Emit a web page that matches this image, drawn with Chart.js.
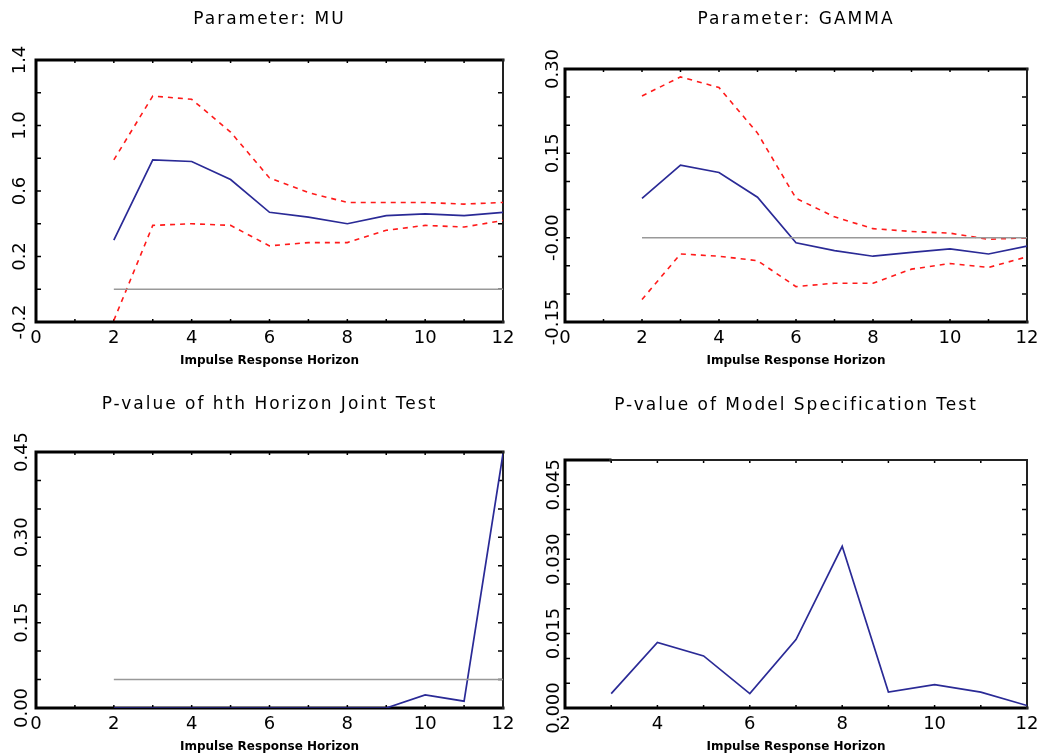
<!DOCTYPE html>
<html>
<head>
<meta charset="utf-8">
<title>Impulse response estimates</title>
<script src="https://cdn.jsdelivr.net/npm/chart.js@4.4.1/dist/chart.umd.min.js"></script>
<style>
  body { margin: 0; background: #fff; }
  .panel { position: absolute; }
</style>
</head>
<body>
<div class="panel" style="left:0;top:0;width:520px;height:375px"><canvas id="muChart"></canvas></div>
<div class="panel" style="left:520px;top:0;width:529px;height:375px"><canvas id="gammaChart"></canvas></div>
<div class="panel" style="left:0;top:375px;width:520px;height:380px"><canvas id="jointChart"></canvas></div>
<div class="panel" style="left:520px;top:375px;width:529px;height:380px"><canvas id="specChart"></canvas></div>
<script>
// horizons
const horizon = [2, 3, 4, 5, 6, 7, 8, 9, 10, 11, 12];
const specHorizon = [3, 4, 5, 6, 7, 8, 9, 10, 11, 12];

// Parameter: MU (estimate and band)
const muEstimate = [0.30, 0.79, 0.78, 0.67, 0.47, 0.44, 0.40, 0.45, 0.46, 0.45, 0.47];
const muUpper = [0.79, 1.18, 1.16, 0.96, 0.68, 0.59, 0.53, 0.53, 0.53, 0.52, 0.53];
const muLower = [-0.19, 0.39, 0.40, 0.39, 0.265, 0.285, 0.285, 0.36, 0.39, 0.38, 0.42];

// Parameter: GAMMA
const gammaEstimate = [0.070, 0.129, 0.116, 0.072, -0.009, -0.023, -0.033, -0.026, -0.020, -0.029, -0.015];
const gammaUpper = [0.252, 0.286, 0.267, 0.186, 0.070, 0.037, 0.016, 0.011, 0.008, -0.003, 0.000];
const gammaLower = [-0.110, -0.029, -0.033, -0.041, -0.087, -0.081, -0.081, -0.056, -0.046, -0.053, -0.034];

// p-values
const jointPValue = [0, 0, 0, 0, 0, 0, 0, 0, 0.023, 0.012, 0.447];
const specPValue = [0.0029, 0.0132, 0.0105, 0.0029, 0.0138, 0.0326, 0.0032, 0.0047, 0.0032, 0.0005];

// reference lines
const zeroLevel = 0;
const jointLevel = 0.05;

// tick labels
const horizonTickValues = [0, 2, 4, 6, 8, 10, 12];
const horizonTickLabels = ['0', '2', '4', '6', '8', '10', '12'];
const specTickValues = [2, 4, 6, 8, 10, 12];
const specTickLabels = ['2', '4', '6', '8', '10', '12'];
const muTickValues = [-0.2, 0.2, 0.6, 1.0, 1.4];
const muTickLabels = ['-0.2', '0.2', '0.6', '1.0', '1.4'];
const gammaTickValues = [-0.15, 0, 0.15, 0.30];
const gammaTickLabels = ['-0.15', '-0.00', '0.15', '0.30'];
const jointTickValues = [0, 0.15, 0.30, 0.45];
const jointTickLabels = ['0.00', '0.15', '0.30', '0.45'];
const specYTickValues = [0, 0.015, 0.030, 0.045];
const specYTickLabels = ['0.000', '0.015', '0.030', '0.045'];

const FONT = "'DejaVu Sans', sans-serif";

function pickLabel(values, labels) {
    return (v) => {
        const i = values.findIndex(t => Math.abs(t - v) < 1e-7);
        return i < 0 ? '' : labels[i];
    };
}

function points(xs, ys) {
    return xs.map((x, i) => ({ x: x, y: ys[i] }));
}

function flat(xs, level) {
    return [{ x: xs[0], y: level }, { x: xs[xs.length - 1], y: level }];
}

const estimateStyle = { borderColor: '#2a2a96', borderWidth: 1.7, pointRadius: 0, tension: 0 };
const bandStyle = { borderColor: '#ff1a1a', borderWidth: 1.6, borderDash: [5, 5], pointRadius: 0, tension: 0 };
const refStyle = { borderColor: '#999999', borderWidth: 1.5, pointRadius: 0, tension: 0 };

// frame with inward ticks, like the old GAUSS plots; also letter spacing for titles
const frameTicks = {
    id: 'frameTicks',
    defaults: { topSplit: null },
    beforeDraw(chart) {
        chart.ctx.letterSpacing = '2px';
    },
    beforeDatasetsDraw(chart, args, opts) {
        const ctx = chart.ctx;
        ctx.letterSpacing = '0px';
        const { left, right, top, bottom } = chart.chartArea;
        const xs = chart.scales.x, ys = chart.scales.y;
        ctx.save();
        ctx.strokeStyle = '#000';
        ctx.lineWidth = 1.5;
        ctx.beginPath();
        xs.ticks.forEach(t => {
            const px = xs.getPixelForValue(t.value);
            ctx.moveTo(px, bottom); ctx.lineTo(px, bottom - 3);
            ctx.moveTo(px, top); ctx.lineTo(px, top + 3);
        });
        ys.ticks.forEach(t => {
            const py = ys.getPixelForValue(t.value);
            ctx.moveTo(left, py); ctx.lineTo(left + 5, py);
            ctx.moveTo(right, py); ctx.lineTo(right - 5, py);
        });
        ctx.stroke();

        // left, bottom (and top) heavy; right a bit lighter
        ctx.lineCap = 'square';
        ctx.lineWidth = 3;
        ctx.beginPath();
        ctx.moveTo(left, top); ctx.lineTo(left, bottom); ctx.lineTo(right, bottom);
        const split = opts.topSplit == null ? right : left + opts.topSplit;
        ctx.moveTo(left, top); ctx.lineTo(split, top);
        ctx.stroke();
        ctx.lineWidth = 2;
        ctx.strokeStyle = '#222';
        ctx.beginPath();
        ctx.moveTo(right, top); ctx.lineTo(right, bottom);
        if (split < right) {
            ctx.moveTo(split, top); ctx.lineTo(right, top);
        }
        ctx.stroke();
        ctx.restore();
    }
};

function panelChart(id, p) {
    return new Chart(document.getElementById(id), {
        type: 'line',
        data: { datasets: p.datasets },
        options: {
            responsive: true,
            maintainAspectRatio: false,
            animation: false,
            layout: { padding: { left: 0, right: p.padRight, top: 0, bottom: 0 } },
            plugins: {
                legend: { display: false },
                tooltip: { enabled: false },
                frameTicks: { topSplit: p.topSplit },
                title: {
                    display: true,
                    text: p.title,
                    fullSize: false,
                    color: '#000',
                    font: { family: FONT, size: 17, weight: 'normal', lineHeight: 1.2 },
                    padding: p.titlePad
                }
            },
            scales: {
                x: {
                    type: 'linear',
                    min: p.xMin, max: 12,
                    grid: { display: false, z: 1 },
                    border: { display: false },
                    ticks: {
                        stepSize: 1, autoSkip: false, maxRotation: 0, z: 1,
                        padding: -2, color: '#000',
                        font: { family: FONT, size: 18 },
                        callback: pickLabel(p.xTickValues, p.xTickLabels)
                    },
                    title: {
                        display: true,
                        text: 'Impulse Response Horizon',
                        color: '#000',
                        font: { family: FONT, size: 12, weight: 'bold' },
                        padding: { top: 0, bottom: p.xTitleBottom }
                    },
                    afterFit: s => { s.height = p.xHeight; }
                },
                y: {
                    min: p.yMin, max: p.yMax,
                    grid: { display: false, z: 1 },
                    border: { display: false },
                    ticks: {
                        stepSize: p.yStep, autoSkip: false, z: 1,
                        minRotation: 90, maxRotation: 90, crossAlign: 'center',
                        padding: p.yPad, color: '#000',
                        font: { family: FONT, size: 18 },
                        callback: pickLabel(p.yTickValues, p.yTickLabels)
                    },
                    afterFit: s => { s.width = p.yWidth; }
                }
            }
        },
        plugins: [frameTicks]
    });
}

document.addEventListener('DOMContentLoaded', () => {

    // Parameter: MU
    panelChart('muChart', {
        title: 'Parameter: MU',
        titlePad: { top: 9, bottom: 30.6 },
        padRight: 17, yWidth: 36, yPad: -10, xHeight: 53, xTitleBottom: 6.8,
        xMin: 0, xTickValues: horizonTickValues, xTickLabels: horizonTickLabels,
        yMin: -0.2, yMax: 1.4, yStep: 0.2, yTickValues: muTickValues, yTickLabels: muTickLabels,
        datasets: [
            { ...refStyle, data: flat(horizon, zeroLevel) },
            { ...bandStyle, data: points(horizon, muUpper) },
            { ...bandStyle, data: points(horizon, muLower) },
            { ...estimateStyle, data: points(horizon, muEstimate) }
        ]
    });

    // Parameter: GAMMA
    panelChart('gammaChart', {
        title: 'Parameter: GAMMA',
        titlePad: { top: 9, bottom: 39.6 },
        padRight: 22, yWidth: 45, yPad: -20, xHeight: 53, xTitleBottom: 6.8,
        xMin: 0, xTickValues: horizonTickValues, xTickLabels: horizonTickLabels,
        yMin: -0.15, yMax: 0.30, yStep: 0.05, yTickValues: gammaTickValues, yTickLabels: gammaTickLabels,
        datasets: [
            { ...refStyle, data: flat(horizon, zeroLevel) },
            { ...bandStyle, data: points(horizon, gammaUpper) },
            { ...bandStyle, data: points(horizon, gammaLower) },
            { ...estimateStyle, data: points(horizon, gammaEstimate) }
        ]
    });

    // P-value of hth Horizon Joint Test
    panelChart('jointChart', {
        title: 'P-value of hth Horizon Joint Test',
        titlePad: { top: 19.5, bottom: 37.1 },
        padRight: 17, yWidth: 36, yPad: -14, xHeight: 47, xTitleBottom: 1,
        xMin: 0, xTickValues: horizonTickValues, xTickLabels: horizonTickLabels,
        yMin: 0, yMax: 0.45, yStep: 0.05, yTickValues: jointTickValues, yTickLabels: jointTickLabels,
        datasets: [
            { ...refStyle, data: flat(horizon, jointLevel) },
            { ...estimateStyle, data: points(horizon, jointPValue) }
        ]
    });

    // P-value of Model Specification Test
    panelChart('specChart', {
        title: 'P-value of Model Specification Test',
        titlePad: { top: 20, bottom: 44.6 },
        padRight: 22, yWidth: 45, yPad: -22.8, xHeight: 47, xTitleBottom: 1,
        topSplit: 45,
        xMin: 2, xTickValues: specTickValues, xTickLabels: specTickLabels,
        yMin: 0, yMax: 0.05, yStep: 0.005, yTickValues: specYTickValues, yTickLabels: specYTickLabels,
        datasets: [
            { ...estimateStyle, data: points(specHorizon, specPValue) }
        ]
    });
});
</script>
</body>
</html>
